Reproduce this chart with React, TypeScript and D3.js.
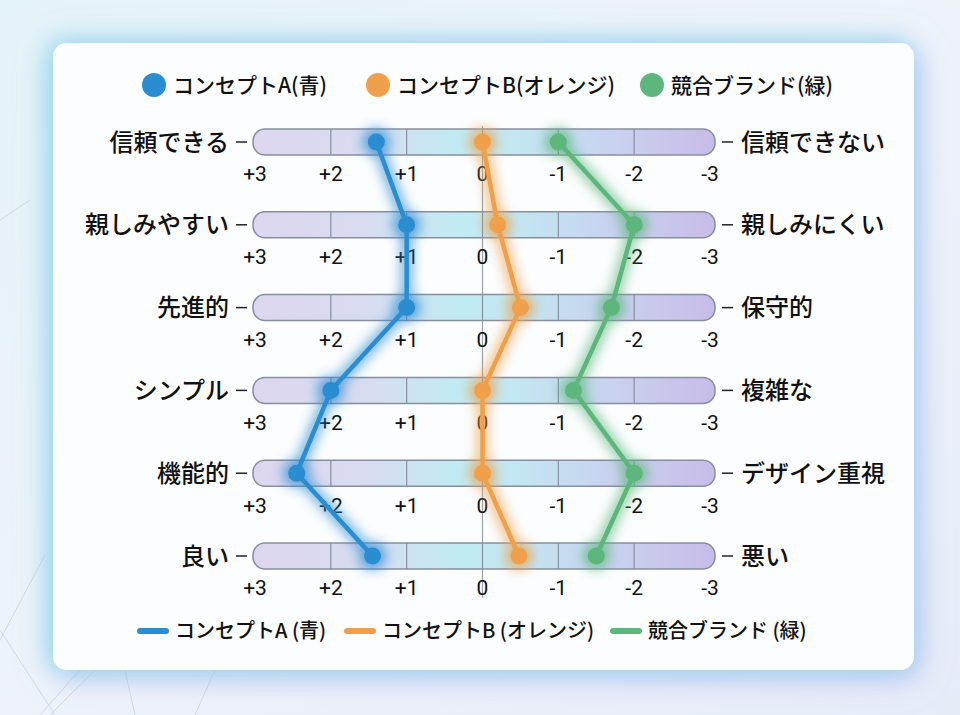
import React, { useEffect } from 'react';
import * as d3 from 'd3';

// scale items: left (positive) and right (negative) anchors
const leftLabels = ['信頼できる', '親しみやすい', '先進的', 'シンプル', '機能的', '良い'];
const rightLabels = ['信頼できない', '親しみにくい', '保守的', '複雑な', 'デザイン重視', '悪い'];
const tickValues = [3, 2, 1, 0, -1, -2, -3];
const tickLabels = ['+3', '+2', '+1', '0', '-1', '-2', '-3'];

const seriesNames = ['コンセプトA(青)', 'コンセプトB(オレンジ)', '競合ブランド(緑)'];
const bottomNames = ['コンセプトA (青)', 'コンセプトB (オレンジ)', '競合ブランド (緑)'];
const seriesColors = ['#2a8dd2', '#f0a04a', '#5db77c'];

const conceptA = [1.4, 1.0, 1.0, 2.0, 2.45, 1.45];
const conceptB = [0, -0.2, -0.5, 0, 0, -0.48];
const competitor = [-1.0, -2.0, -1.7, -1.2, -2.0, -1.5];
const allSeries = [conceptA, conceptB, competitor];

const W = 960;
const H = 715;
const font = '"Noto Sans CJK JP", "Noto Sans", sans-serif';
const numFont = 'Roboto, "Noto Sans", sans-serif';

export default function App() {
  useEffect(() => {
    document.body.style.margin = '0';
  }, []);

  const x = d3.scaleLinear().domain([3, -3]).range([255, 710]);
  const y = d3.scalePoint<number>()
    .domain(d3.range(leftLabels.length))
    .range([142, 556]);

  const barLeft = x(3) - 2;
  const barRight = x(-3) + 5;
  const barH = 26;

  const line = d3.line<number>()
    .x(d => x(d))
    .y((_, i) => y(i) as number);

  const topLegendX = [154, 378, 652];
  const bottomLegendX = [140, 347, 613];

  return (
    <svg width={W} height={H} style={{ display: 'block' }}>
      <defs>
        <linearGradient id="bg" x1="0" y1="0" x2="1" y2="1">
          <stop offset="0%" stopColor="#e4f3f8" />
          <stop offset="50%" stopColor="#eef3fa" />
          <stop offset="100%" stopColor="#e7ecf9" />
        </linearGradient>
        <linearGradient id="bar" x1="0" y1="0" x2="1" y2="0">
          <stop offset="0%" stopColor="#ddd6ef" />
          <stop offset="25%" stopColor="#d8dcf1" />
          <stop offset="45%" stopColor="#c0ebf3" />
          <stop offset="58%" stopColor="#c3e6f2" />
          <stop offset="78%" stopColor="#c9d2ef" />
          <stop offset="100%" stopColor="#c8bce8" />
        </linearGradient>
        <filter id="cardShadow" x="-10%" y="-10%" width="120%" height="120%">
          <feDropShadow dx="-5" dy="-2" stdDeviation="12" floodColor="#86d9ea" floodOpacity="0.8" />
          <feDropShadow dx="6" dy="7" stdDeviation="12" floodColor="#a5b4ee" floodOpacity="0.65" />
        </filter>
        <filter id="glow" x="-20%" y="-20%" width="140%" height="140%">
          <feGaussianBlur stdDeviation="6" />
        </filter>
      </defs>

      <rect width={W} height={H} fill="url(#bg)" />
      {/* faint background network lines */}
      <g stroke="#b9c6d4" strokeWidth={0.8} opacity={0.7} fill="none">
        <path d="M0,640 L45,555" />
        <path d="M0,630 L55,715" />
        <path d="M40,715 L80,670" />
        <path d="M50,715 L95,670" />
        <path d="M125,670 L135,715" />
        <path d="M215,670 L195,715" />
        <path d="M0,220 L30,200" />
      </g>

      <rect x={53} y={43} width={861} height={627} rx={14} fill="#ffffff" filter="url(#cardShadow)" />
      <rect x={53} y={43} width={861} height={627} rx={14} fill="#f9fbfe" opacity={0.6} />

      {/* top legend */}
      {seriesNames.map((name, i) => (
        <g key={name}>
          <circle cx={topLegendX[i]} cy={85} r={12} fill={seriesColors[i]} />
          <text x={topLegendX[i] + 19} y={85} dy="0.36em" fontFamily={font} fontSize={21} fontWeight={500} fill="#111">
            {name}
          </text>
        </g>
      ))}

      {/* zero axis */}
      <line x1={x(0)} x2={x(0)} y1={126} y2={598} stroke="#9aa0ad" strokeWidth={1.2} />

      {/* bars */}
      {leftLabels.map((lab, i) => {
        const cy = y(i) as number;
        return (
          <g key={lab}>
            <rect x={barLeft} y={cy - barH / 2} width={barRight - barLeft} height={barH} rx={12}
              fill="url(#bar)" stroke="#888ea0" strokeWidth={1.5} />
            {tickValues.slice(1, -1).map(t => (
              <line key={t} x1={x(t)} x2={x(t)} y1={cy - barH / 2} y2={cy + barH / 2}
                stroke="#888ea0" strokeWidth={1.2} />
            ))}
            <line x1={236} x2={247} y1={cy} y2={cy} stroke="#222" strokeWidth={1.5} />
            <line x1={722} x2={733} y1={cy} y2={cy} stroke="#222" strokeWidth={1.5} />
            <text x={229} y={cy} dy="0.36em" textAnchor="end" fontFamily={font} fontSize={24} fontWeight={500} fill="#111">
              {lab}
            </text>
            <text x={741} y={cy} dy="0.36em" fontFamily={font} fontSize={24} fontWeight={500} fill="#111">
              {rightLabels[i]}
            </text>
            {tickValues.map((t, j) => (
              <text key={t} x={x(t)} y={cy + 32} dy="0.35em" textAnchor="middle"
                fontFamily={numFont} fontSize={21} fill="#111">
                {tickLabels[j]}
              </text>
            ))}
          </g>
        );
      })}

      {/* series: glow then line and dots */}
      {allSeries.map((s, k) => (
        <g key={k}>
          <g filter="url(#glow)" opacity={0.7}>
            <path d={line(s) || ''} fill="none" stroke={seriesColors[k]} strokeWidth={11} />
            {s.map((v, i) => (
              <circle key={i} cx={x(v)} cy={y(i) as number} r={14} fill={seriesColors[k]} />
            ))}
          </g>
          <path d={line(s) || ''} fill="none" stroke={seriesColors[k]} strokeWidth={4.5} strokeLinejoin="round" />
          {s.map((v, i) => (
            <circle key={i} cx={x(v)} cy={y(i) as number} r={8.5} fill={seriesColors[k]} />
          ))}
        </g>
      ))}

      {/* bottom legend */}
      {bottomNames.map((name, i) => (
        <g key={name}>
          <line x1={bottomLegendX[i]} x2={bottomLegendX[i] + 26} y1={631} y2={631}
            stroke={seriesColors[i]} strokeWidth={6} strokeLinecap="round" />
          <text x={bottomLegendX[i] + 35} y={631} dy="0.36em" fontFamily={font} fontSize={20} fontWeight={500} fill="#111">
            {name}
          </text>
        </g>
      ))}
    </svg>
  );
}
